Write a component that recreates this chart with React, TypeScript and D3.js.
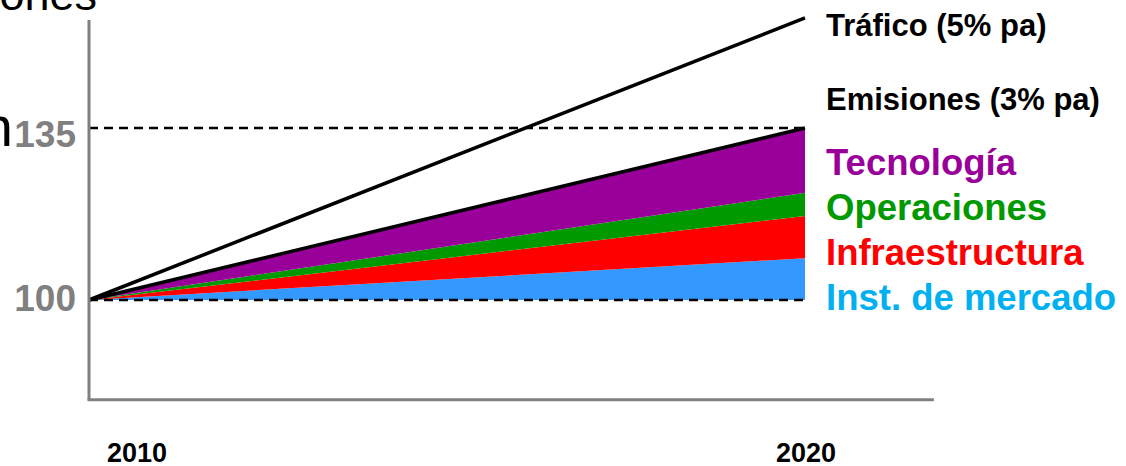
import * as d3 from "d3";

// years on the x axis
const years = [2010, 2020];
// index values, 2010 = 100
const trafico = [100, 157.4];
const emisiones = [100, 135];
// stacked reductions above the 100 baseline
const mercado = [0, 8.5];
const infraestructura = [0, 8.6];
const operaciones = [0, 4.7];
const tecnologia = [0, 13.2];
const yTicks = [100, 135];

const layers = [
  { key: "mercado", values: mercado, color: "#3399ff" },
  { key: "infraestructura", values: infraestructura, color: "#ff0000" },
  { key: "operaciones", values: operaciones, color: "#009900" },
  { key: "tecnologia", values: tecnologia, color: "#990099" },
];

const labels = [
  { text: "Tráfico (5% pa)", color: "#000000", size: 31, y: 36 },
  { text: "Emisiones (3% pa)", color: "#000000", size: 31, y: 110 },
  { text: "Tecnología", color: "#990099", size: 36.5, y: 175 },
  { text: "Operaciones", color: "#009900", size: 36.5, y: 220 },
  { text: "Infraestructura", color: "#ff0000", size: 36.5, y: 265 },
  { text: "Inst. de mercado", color: "#00b0f0", size: 36.5, y: 310 },
];

const font = "'Liberation Sans', Arial, sans-serif";

const App = () => {
  const width = 1126;
  const height = 466;

  const x = d3.scaleLinear().domain([2010, 2020]).range([89, 805]);
  const y = d3.scaleLinear().domain([100, 135]).range([300, 128]);

  const rows = years.map((yr, i) => {
    const r: any = { year: yr };
    layers.forEach((l) => (r[l.key] = l.values[i]));
    return r;
  });
  const stack = d3
    .stack<any>()
    .keys(layers.map((l) => l.key))
    .offset((series: any, order: number[]) => {
      for (let j = 0; j < series[0].length; j++) {
        let base = 100;
        for (const k of order) {
          const s = series[k][j];
          const d = s[1] - s[0];
          s[0] = base;
          s[1] = base + d;
          base += d;
        }
      }
    });
  const stacked = stack(rows);

  const area = d3
    .area<any>()
    .x((d) => x(d.data.year))
    .y0((d) => y(d[0]))
    .y1((d) => y(d[1]));

  const line = d3
    .line<number>()
    .x((_, i) => x(years[i]))
    .y((d) => y(d));

  const axisBottom = 79.7;
  const axisTop = 157;
  const xEnd = 2021.8;

  return (
    <svg
      width={width}
      height={height}
      style={{ position: "absolute", left: 0, top: 0, background: "#fff" }}
      fontFamily={font}
    >
      <text x={97} y={10} fontSize={45} textAnchor="end" fill="#000">
        Emisiones
      </text>
      <text x={13} y={146} fontSize={56} textAnchor="end" fill="#000">
        Emisión
      </text>

      {stacked.map((s, i) => (
        <path key={s.key} d={area(s) as string} fill={layers[i].color} />
      ))}

      {yTicks.map((t) => (
        <line
          key={t}
          x1={x(2010)}
          x2={x(2020)}
          y1={y(t)}
          y2={y(t)}
          stroke="#000"
          strokeWidth={2.5}
          strokeDasharray="9,6"
        />
      ))}

      <path d={line(trafico) as string} fill="none" stroke="#000" strokeWidth={3.5} />
      <path d={line(emisiones) as string} fill="none" stroke="#000" strokeWidth={3.5} />

      <line
        x1={x(2010)}
        x2={x(2010)}
        y1={y(axisTop)}
        y2={y(axisBottom)}
        stroke="#808080"
        strokeWidth={3}
      />
      <line
        x1={x(2010) - 1.5}
        x2={x(xEnd)}
        y1={y(axisBottom)}
        y2={y(axisBottom)}
        stroke="#808080"
        strokeWidth={3}
      />

      {yTicks.map((t, i) => (
        <text
          key={t}
          x={x(2010) - 13}
          y={y(t) + (i === 0 ? 11 : 19)}
          fontSize={37}
          fontWeight="bold"
          textAnchor="end"
          fill="#808080"
        >
          {t}
        </text>
      ))}

      {years.map((yr, i) => (
        <text
          key={yr}
          x={x(yr) + (i === 0 ? 48 : 1)}
          y={462}
          fontSize={27}
          fontWeight="bold"
          textAnchor="middle"
          fill="#000"
        >
          {yr}
        </text>
      ))}

      {labels.map((l) => (
        <text
          key={l.text}
          x={826}
          y={l.y}
          fontSize={l.size}
          fontWeight="bold"
          fill={l.color}
        >
          {l.text}
        </text>
      ))}
    </svg>
  );
};

export default App;
